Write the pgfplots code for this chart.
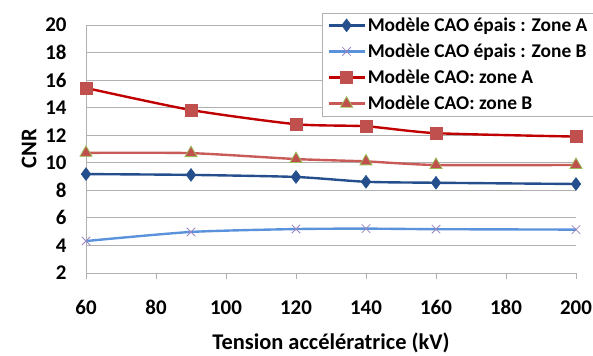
\documentclass[border=0pt]{standalone}
\usepackage{pgfplots}
\pgfplotsset{compat=1.18}
\usepackage{fontspec}
\setmainfont{Carlito}
\definecolor{sA}{HTML}{254F8C}
\definecolor{sB}{HTML}{5A93DB}
\definecolor{sBm}{HTML}{9A86C0}
\definecolor{sC}{HTML}{C00000}
\definecolor{sCm}{HTML}{C0504D}
\definecolor{sD}{HTML}{C85A57}
\definecolor{sDm}{HTML}{9BBB59}
\definecolor{gridc}{HTML}{B0B0B0}
\begin{document}
\begin{tikzpicture}
\path[use as bounding box] (-86bp,-83bp) rectangle (507bp,273bp);
\begin{axis}[
  at={(0,0)}, anchor=south west,
  scale only axis, width=490bp, height=248bp,
  xmin=60, xmax=200, ymin=2, ymax=20,
  xtick={60,80,...,200}, ytick={2,4,...,20},
  ymajorgrids, major grid style={gridc, line width=0.8pt},
  axis x line*=bottom, axis y line*=left,
  axis line style={gridc, line width=0.8pt},
  x axis line style={-}, y axis line style={-},
  xtick style={gridc, line width=0.8pt}, ytick style={draw=none},
  tick align=outside, major tick length=6bp,
  /pgf/number format/assume math mode=true,
  ticklabel style={font=\fontsize{21}{24}\selectfont\bfseries},
  xticklabel style={yshift=-18bp},
  yticklabel style={xshift=-10bp},
  xlabel={Tension accélératrice (kV)},
  ylabel={CNR},
  label style={font=\fontsize{22.5}{25}\selectfont\bfseries},
  xlabel style={yshift=-11bp},
  ylabel style={yshift=2bp},
  legend style={at={(rel axis cs:0.482,1.05)}, anchor=north west,
    draw=gridc, fill=white, font=\fontsize{19.5}{22}\selectfont\bfseries,
    row sep=7bp, inner xsep=5bp, inner ysep=3bp},
  legend cell align=left,
  legend image code/.code={\draw[#1, mark repeat=2, mark phase=2] plot coordinates {(0bp,0bp) (18bp,0bp) (36bp,0bp)};},
  every axis plot/.append style={line width=2.4pt, smooth, tension=0.4},
]
\addplot[sA, mark=diamond*, mark size=6.5pt, mark options={solid, fill=sA, line width=0.5pt}]
  coordinates {(60,9.18) (90,9.12) (120,8.97) (140,8.62) (160,8.55) (200,8.46)};
\addlegendentry{Modèle CAO épais : Zone A}
\addplot[sB, mark=x, mark size=6pt, mark options={solid, draw=sBm, line width=0.8pt}]
  coordinates {(60,4.32) (90,4.98) (120,5.19) (140,5.22) (160,5.18) (200,5.15)};
\addlegendentry{Modèle CAO épais : Zone B}
\addplot[sC, mark=square*, mark size=6pt, mark options={solid, fill=sCm, draw=sCm, line width=0.5pt}]
  coordinates {(60,15.43) (90,13.83) (120,12.8) (140,12.65) (160,12.15) (200,11.9)};
\addlegendentry{Modèle CAO: zone A}
\addplot[sD, mark=triangle*, mark size=7pt, mark options={solid, fill=sCm, draw=sDm, line width=0.8pt}]
  coordinates {(60,10.72) (90,10.7) (120,10.27) (140,10.1) (160,9.84) (200,9.84)};
\addlegendentry{Modèle CAO: zone B}
\end{axis}
\end{tikzpicture}
\end{document}
